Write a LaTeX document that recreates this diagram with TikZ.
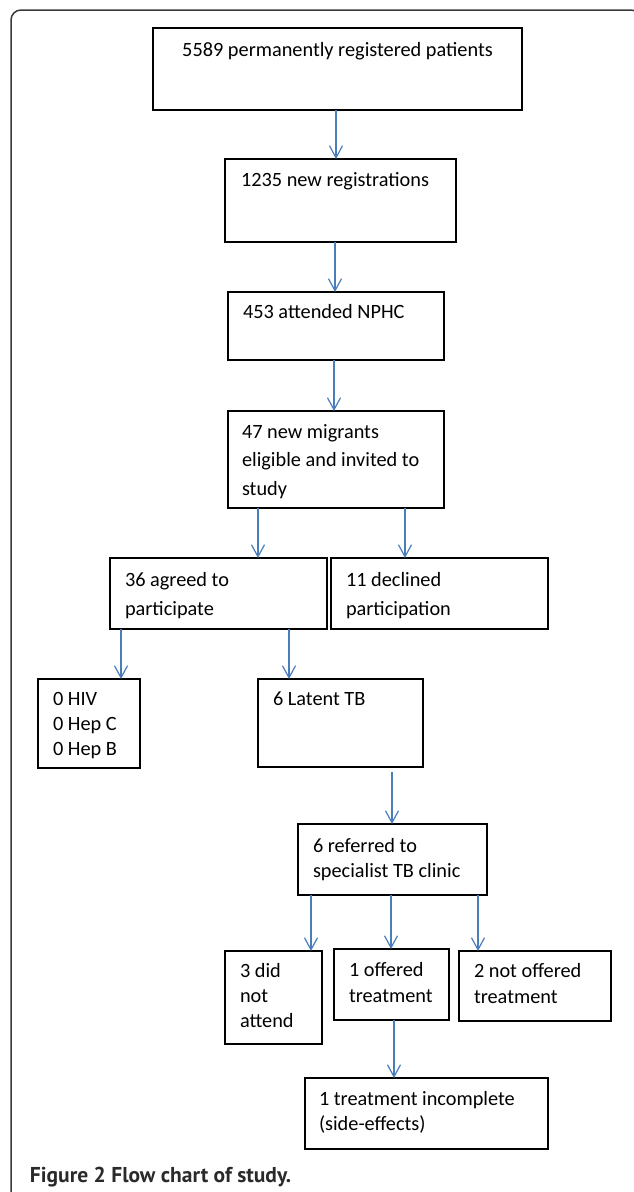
\documentclass[tikz,border=0pt]{standalone}
\usepackage{fontspec}
\setmainfont{Carlito}
\newfontfamily\capfont{PT Sans}
\usetikzlibrary{arrows.meta}
\definecolor{arrblue}{HTML}{4A7EBB}
\definecolor{framegray}{HTML}{3A3A3A}
\definecolor{capgray}{HTML}{2A2A2A}
\tikzset{
  box/.style={draw=black, line width=1.2pt, anchor=north west, inner sep=0pt, outer sep=0pt},
  txt/.style={anchor=base west, inner sep=0pt, outer sep=0pt},
  arr/.style={draw=arrblue, line width=1.2pt, -{Straight Barb[length=12pt,width=13pt]}},
}
\newcommand{\bx}[5]{\node[box, minimum width=#4pt-#2pt, minimum height=#5pt-#3pt] (#1) at (#2,#3) {};}
\newcommand{\tx}[5]{\node[txt] (#1) at (#2,#3) {\parbox[t]{9cm}{\fontsize{20.3}{#4}\selectfont\raggedright #5}};}
\begin{document}
\begin{tikzpicture}[x=1pt,y=-1pt]
\useasboundingbox (0,0) rectangle (634,1192);
\begin{scope}
  \clip (0,0) rectangle (634,1192);
  \draw[framegray, line width=1.5pt, rounded corners=10pt] (11,10) rectangle (641,1215);
\end{scope}

% boxes
\bx{b1}{153}{28}{522}{110}
\bx{b2}{225}{159}{456}{242}
\bx{b3}{228}{292}{444}{360}
\bx{b4}{228}{411}{444}{508}
\bx{b5}{110}{558}{327}{629}
\bx{b6}{331}{558}{548}{629}
\bx{b7}{38}{679}{140}{768}
\bx{b8}{258}{679}{423}{767}
\bx{b9}{298}{824}{487}{895}
\bx{b10}{225}{951}{322}{1044}
\bx{b11}{334}{949}{449}{1020}
\bx{b12}{459}{951}{611}{1021}
\bx{b13}{305}{1078}{548}{1149}

% texts
\node[anchor=base, inner sep=0pt, font=\fontsize{20.3}{25}\selectfont] (t1) at (337.5,56) {5589 permanently registered patients};
\tx{t2}{241}{186}{25}{1235 new registrations}
\tx{t3}{243}{318}{25}{453 attended NPHC}
\tx{t4}{242}{438}{28.5}{47 new migrants\\eligible and invited to\\study}
\tx{t5}{125}{586}{29}{36 agreed to\\participate}
\tx{t6}{346}{586}{29}{11 declined\\participation}
\tx{t7}{53}{705}{25}{0 HIV\\0 Hep C\\0 Hep B}
\tx{t8}{273}{705}{25}{6 Latent TB}
\tx{t9}{313}{852}{25}{6 referred to\\specialist TB clinic}
\tx{t10}{240}{977}{25}{3 did\\not\\attend}
\tx{t11}{349}{976}{26}{1 offered\\treatment}
\tx{t12}{474}{977}{26}{2 not offered\\treatment}
\tx{t13}{319}{1105}{25}{1 treatment incomplete\\(side-effects)}

% arrow x positions
\coordinate (xa) at (336,0);
\coordinate (xb) at (335,0);
\coordinate (xc) at (334,0);
\coordinate (xd) at (258,0);
\coordinate (xe) at (405,0);
\coordinate (xf) at (121,0);
\coordinate (xg) at (289,0);
\coordinate (xh) at (392,0);
\coordinate (xi) at (311,0);
\coordinate (xj) at (391,0);
\coordinate (xk) at (478,0);
\coordinate (xl) at (394,0);

\draw[arr] (b1.south -| xa) -- (b2.north -| xa);
\draw[arr] (b2.south -| xb) -- (b3.north -| xb);
\draw[arr] (b3.south -| xc) -- (b4.north -| xc);
\draw[arr] (b4.south -| xd) -- (b5.north -| xd);
\draw[arr] (b4.south -| xe) -- (b6.north -| xe);
\draw[arr] (b5.south -| xf) -- (b7.north -| xf);
\draw[arr] (b5.south -| xg) -- (b8.north -| xg);
\draw[arr, shorten <=5pt] (b8.south -| xh) -- (b9.north -| xh);
\draw[arr] (b9.south -| xi) -- (b10.north -| xi);
\draw[arr] (b9.south -| xj) -- (b11.north -| xj);
\draw[arr] (b9.south -| xk) -- (b12.north -| xk);
\draw[arr] (b11.south -| xl) -- (b13.north -| xl);

% caption
\node[txt, text=capgray, font=\capfont\bfseries\fontsize{21.5}{24}\selectfont] (cap) at (30,1182) {Figure 2 Flow chart of study.};
\end{tikzpicture}
\end{document}
